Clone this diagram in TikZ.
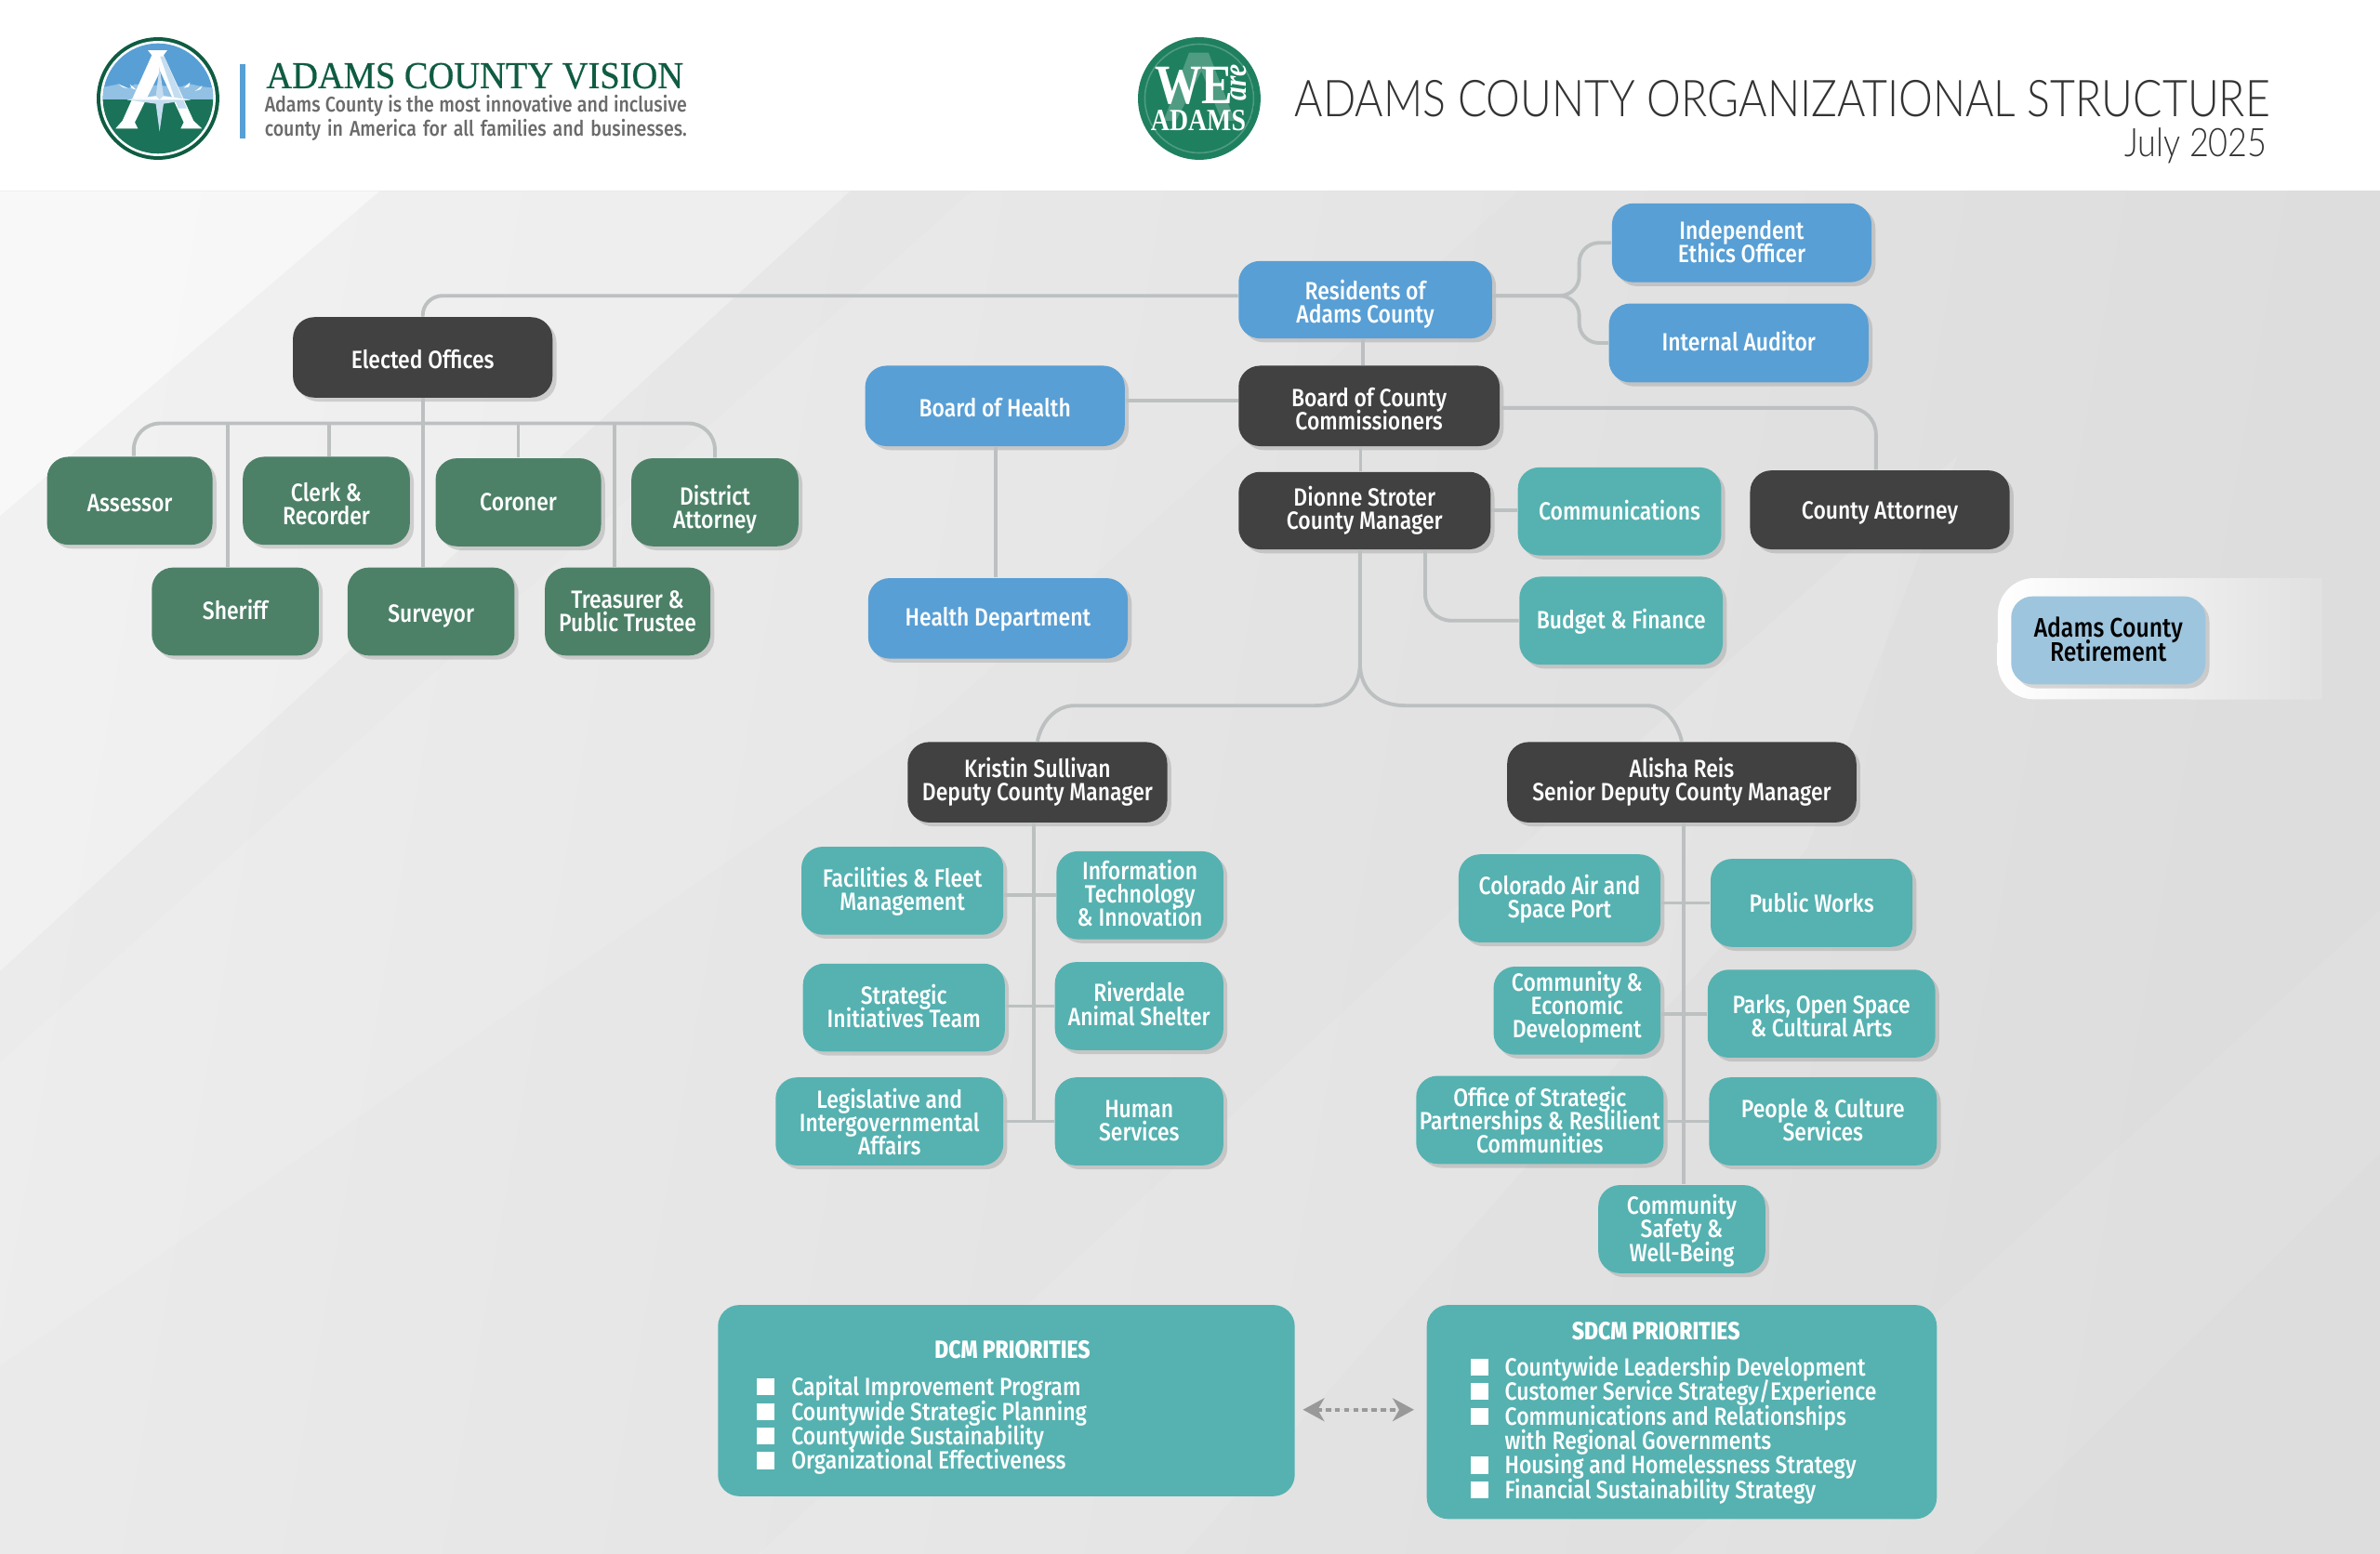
\documentclass[tikz,border=0pt]{standalone}
\usepackage{fontspec}
\setmainfont[FakeStretch=.855]{Fira Sans Medium}
\newfontfamily\headserif[FakeStretch=.94,FakeBold=0.5]{Liberation Serif}
\newfontfamily\logoserif[FakeStretch=.84]{Liberation Serif}
\newfontfamily\titlelight[FakeStretch=.85]{Lato Light}
\usetikzlibrary{shadows}
\usetikzlibrary{arrows.meta}
\definecolor{darkbox}{HTML}{414141}
\definecolor{bluebox}{HTML}{589FD5}
\definecolor{tealbox}{HTML}{55B2B1}
\definecolor{greenbox}{HTML}{4C8168}
\definecolor{paleblue}{HTML}{9EC5DE}
\definecolor{linkgray}{HTML}{BCC0C0}
\definecolor{logogreen}{HTML}{0F5C42}
\definecolor{fieldgreen}{HTML}{1A7358}
\definecolor{wegreen}{HTML}{1F8060}
\definecolor{weline}{HTML}{4F9C83}
\newcommand\boxfont{\fontsize{7.6}{7.1}\selectfont\lineskiplimit=-6pt\relax}
\newcommand\retfont{\fontsize{8.2}{7.2}\selectfont\lineskiplimit=-6pt\relax}
\tikzset{
    unit/.style 2 args = {minimum width = #1*0.4628pt, minimum height = #2*0.4628pt},
    orgbox/.style = {rounded corners = 6.5pt, inner sep = 0pt, align = center, text = white,
        font = \boxfont,
        execute at begin node = {\rule[-1.5pt]{0pt}{8pt}},
        execute at end node = {\rule[-1.5pt]{0pt}{6.6pt}},
        drop shadow = {opacity = 0.3, shadow xshift = 1.2pt, shadow yshift = -1.2pt}},
    down/.style 2 args = {text height = #1pt + #2*0.9256pt, text depth = 1.5pt},
    dark/.style = {orgbox, fill = darkbox},
    blue/.style = {orgbox, fill = bluebox},
    teal/.style = {orgbox, fill = tealbox},
    green/.style = {orgbox, fill = greenbox},
    link/.style = {draw = linkgray, line width = 1.1pt, rounded corners = 6pt},
    listtext/.style = {anchor = west, inner sep = 0pt, text = white, font = \boxfont},
    listhead/.style = {inner sep = 0pt, text = white, font = \boxfont\bfseries},
}

\begin{document}
\begin{tikzpicture}[%
        x = 0.4628pt,
        y = -0.4628pt,
        ]

\useasboundingbox[] (0,0) rectangle (1568,1024);

% page
\fill[white] (0,0) rectangle (1568,126);
\shade[left color = black!8, right color = black!13.5, shading angle = 80] (0,126) rectangle (1568,1024);
\fill[white, opacity = 0.5] (0,126) -- (250,126) -- (0,340) -- cycle;
\fill[white, opacity = 0.3] (0,126) -- (560,126) -- (0,640) -- cycle;
\fill[white, opacity = 0.1] (0,700) -- (640,126) -- (1000,126) -- (620,470) -- (0,900) -- cycle;
\fill[white, opacity = 0.1] (500,1024) -- (1000,560) -- (1290,300) -- (1190,560) -- (780,1024) -- cycle;
\fill[white, opacity = 0.08] (1100,1024) -- (1568,600) -- (1568,760) -- (1300,1024) -- cycle;

% left logo
\begin{scope}[shift = {(58.2,18.4)}, x = 0.0944pt, y = -0.0944pt]
    \fill[logogreen] (225,228) circle [radius = 198*0.0944pt];
    \fill[white] (225,228) circle [radius = 186*0.0944pt];
    \begin{scope}
        \clip (225,228) circle [radius = 178*0.0944pt];
        \fill[bluebox] (0,0) rectangle (450,232);
        \fill[bluebox!65!white] (30,232) -- (30,195) -- (95,182) -- (130,195) -- (150,182) -- (300,190) -- (325,180) -- (370,190) -- (420,195) -- (420,232) -- cycle;
        \fill[white] (95,180) -- (130,196) -- (112,192) -- cycle;
        \fill[white] (135,182) -- (155,200) -- (140,195) -- cycle;
        \fill[white] (328,176) -- (308,194) -- (325,190) -- cycle;
        \fill[white] (368,186) -- (345,204) -- (362,198) -- cycle;
        \fill[fieldgreen] (0,232) rectangle (450,450);
        \foreach \RAD in {80,110,140,170,200}{
            \draw[logogreen, line width = 0.7pt] (60,420) ++(60:\RAD) arc [start angle = 60, end angle = 0, radius = \RAD*0.0944pt];
            \draw[logogreen, line width = 0.7pt] (400,430) ++(120:\RAD) arc [start angle = 120, end angle = 180, radius = \RAD*0.0944pt];
            }
    \end{scope}
    \fill[white] (192,72) -- (255,72) -- (243,88) -- (340,300) -- (367,325) -- (298,325) -- (308,305) -- (232,140) -- (150,305) -- (160,325) -- (88,325) -- (110,300) -- (205,88) -- cycle;
    \fill[bluebox!35!white] (232,92) -- (245,92) -- (318,260) -- (290,260) -- cycle;
    \fill[bluebox!35!white] (230,125) -- (243,220) -- (330,232) -- (243,245) -- (230,335) -- (218,245) -- (125,232) -- (218,220) -- cycle;
    \fill[white] (125,232) -- (218,220) -- (230,232) -- (243,220) -- (330,232) -- (230,232) -- cycle;
\end{scope}

\fill[bluebox] (158,42) rectangle (162,91);
\node (vision) [anchor = west, inner sep = 0pt, text = logogreen, font = \fontsize{11.6}{12}\headserif] at (175,50) {ADAMS COUNTY VISION};
\node (statement) [anchor = north west, inner sep = 0pt, align = left, text = black!58, font = \fontsize{6.5}{7.4}\selectfont] at (174,62) {\hbox to 128.7pt{Adams County is the most innovative and inclusive}\\\hbox to 128.7pt{county in America for all families and businesses.}};

% right logo
\begin{scope}[shift = {(744.2,18.4)}, x = 0.0944pt, y = -0.0944pt]
    \fill[wegreen] (225,228) circle [radius = 198*0.0944pt];
    \begin{scope}
        \clip (225,228) circle [radius = 178*0.0944pt];
        \draw[weline, line width = 0.5pt] (225,228) circle [radius = 176*0.0944pt];
        \fill[weline] (192,80) -- (255,80) -- (340,300) -- (298,300) -- (232,140) -- (150,300) -- (110,300) -- cycle;
        \foreach \RAD in {50,75,100,125}{
            \draw[weline, line width = 0.5pt] (225,470) ++(40:\RAD) arc [start angle = 40, end angle = 140, radius = \RAD*0.0944pt];
            }
    \end{scope}
    \node (we) [text = white, inner sep = 0pt, font = \fontsize{17}{17}\logoserif\bfseries] at (208,188) {WE};
    \node (wordare) [text = white, inner sep = 0pt, rotate = 90, font = \fontsize{10}{10}\logoserif\bfseries\itshape] at (352,176) {are};
    \node (weadams) [text = white, inner sep = 0pt, font = \fontsize{9.4}{9.4}\logoserif\bfseries] at (222,300) {ADAMS};
\end{scope}

\node (title) [anchor = east, inner sep = 0pt, text = black!80, font = \fontsize{15.5}{16}\titlelight] at (1496,65) {ADAMS COUNTY ORGANIZATIONAL STRUCTURE};
\node (date) [anchor = east, inner sep = 0pt, text = black!80, font = \fontsize{12}{12}\titlelight] at (1494,96) {July 2025};

% retirement panel
\shade[left color = white, middle color = black!5, right color = black!12] (1530,381) -- (1340,381) arc [start angle = 90, end angle = 180, radius = 11pt] -- (1316,437) arc [start angle = 180, end angle = 270, radius = 11pt] -- (1530,461) -- cycle;
\node (ret) [orgbox, fill = paleblue, text = black, font = \retfont, unit = {128}{58}, down = {12.6}{1.5}] at (1389,422) {Adams County\\Retirement};

% top
\node (res) [blue, unit = {167}{51}, down = {12.6}{3.5}] at (899.5,197.5) {Residents of\\Adams County};
\node (ieo) [blue, unit = {171}{52}, down = {12.6}{1}] at (1147.5,160) {Independent\\Ethics Officer};
\node (iaud) [blue, unit = {171}{52}] at (1145.5,226) {Internal Auditor};
\node (bocc) [dark, unit = {172}{53}, down = {12.6}{4}] at (902,267.5) {Board of County\\Commissioners};
\node (boh) [blue, unit = {171}{53}, down = {6.2}{2}] at (655.5,267.5) {Board of Health};
\node (hlth) [blue, unit = {171}{53}] at (657.5,407.5) {Health Department};
\node (dcm) [dark, unit = {166}{51}] at (899,336.5) {Dionne Stroter\\County Manager};
\node (comm) [teal, unit = {134}{58}] at (1067,337) {Communications};
\node (bud) [teal, unit = {134}{58}] at (1068,409) {Budget \& Finance};
\node (att) [dark, unit = {171}{52}, down = {6.2}{1}] at (1238.5,336) {County Attorney};

% elected
\node (elc) [dark, unit = {171}{53}, down = {6.2}{2}] at (278.5,235.5) {Elected Offices};
\node (asr) [green, unit = {109}{58}, down = {6.2}{2}] at (85.5,330) {Assessor};
\node (clk) [green, unit = {110}{58}, down = {12.6}{3.5}] at (215,330) {Clerk \&\\Recorder};
\node (cor) [green, unit = {109}{58}] at (341.5,331) {Coroner};
\node (dat) [green, unit = {110}{58}, down = {12.6}{5}] at (471,331) {District\\Attorney};
\node (she) [green, unit = {110}{58}] at (155,403) {Sheriff};
\node (sur) [green, unit = {110}{58}, down = {6.2}{2}] at (284,403) {Surveyor};
\node (tre) [green, unit = {109}{58}, down = {12.6}{1}] at (413.5,403) {Treasurer \&\\Public Trustee};

% deputies
\node (krs) [dark, unit = {171}{53}] at (683.5,515.5) {Kristin Sullivan\\Deputy County Manager};
\node (ali) [dark, unit = {230}{53}] at (1108,515.5) {Alisha Reis\\Senior Deputy County Manager};
\node (fac) [teal, unit = {133}{58}, down = {12.6}{1}] at (594.5,587) {Facilities \& Fleet\\Management};
\node (inf) [teal, unit = {110}{58}] at (751,590) {Information\\Technology\\\& Innovation};
\node (str) [teal, unit = {133}{58}, down = {12.6}{1}] at (595.5,664) {Strategic\\Initiatives Team};
\node (riv) [teal, unit = {111}{58}] at (750.5,663) {Riverdale\\Animal Shelter};
\node (leg) [teal, unit = {150}{58}, down = {19.7}{2.5}] at (586,739) {Legislative and\\Intergovernmental\\Affairs};
\node (hum) [teal, unit = {111}{58}, down = {12.6}{1}] at (750.5,739) {Human\\Services};
\node (col) [teal, unit = {133}{58}, down = {12.6}{1}] at (1027.5,592) {Colorado Air and\\Space Port};
\node (pub) [teal, unit = {133}{58}, down = {6.2}{1}] at (1193.5,595) {Public Works};
\node (ced) [teal, unit = {110}{58}, down = {19.7}{-2}] at (1039,666) {Community \&\\Economic\\Development};
\node (prk) [teal, unit = {150}{58}, down = {12.6}{3}] at (1200,668) {Parks, Open Space\\\& Cultural Arts};
\node (osp) [teal, unit = {163}{58}, down = {19.7}{2}] at (1014.5,738) {Office of Strategic\\Partnerships \& Reslilient\\Communities};
\node (ppl) [teal, unit = {150}{58}, down = {12.6}{1}] at (1201,739) {People \& Culture\\Services};
\node (csw) [teal, unit = {110}{58}, down = {19.7}{1.5}] at (1108,810) {Community\\Safety \&\\Well-Being};

% priorities
\node (dcmp) [fill = tealbox, rounded corners = 6.5pt, unit = {380}{126}] at (663,923) {};
\node (sdcmp) [fill = tealbox, rounded corners = 6.5pt, unit = {336}{141}] at (1108,930.5) {};
\node (dcmhead) [listhead] at (667,889.5) {DCM PRIORITIES};
\node (sdcmhead) [listhead] at (1091,877) {SDCM PRIORITIES};
\foreach \Y/\TEXT in {914/Capital Improvement Program,930.4/Countywide Strategic Planning,946.5/Countywide Sustainability,962.6/Organizational Effectiveness}{
    \fill[white] (498.6,\Y-5.6) rectangle +(11.4,11.2);
    \node [listtext] at (521,\Y+0.8) {\TEXT};
    }
\foreach \Y/\TEXT in {901/Countywide Leadership Development,917/Customer Service Strategy\slash Experience,933.5/Communications and Relationships,965.6/Housing and Homelessness Strategy,982/Financial Sustainability Strategy}{
    \fill[white] (969,\Y-5.6) rectangle +(11.4,11.2);
    \node [listtext] at (991,\Y+0.8) {\TEXT};
    }
\node [listtext] at (991,950.3) {with Regional Governments};

\coordinate (bus) at (278,279);
\coordinate (split) at (896,437);
\coordinate (arrowy) at (895,929);

% connectors
\draw[link] ([yshift = 1.2pt]res.west) -| (elc.north);
\draw[link] ([xshift = -0.7pt]res.south) -- ([xshift = -0.7pt]res.south |- bocc.north);
\draw[link] ([xshift = -1.2pt]dcm.north) -- ([xshift = -1.2pt]dcm.north |- bocc.south);
\draw[link] ([yshift = 1.2pt]res.east) -- +(57,0) |- (ieo.west);
\draw[link] ([yshift = 1.2pt]res.east) -- +(57,0) |- (iaud.west);
\draw[link] ([yshift = 1.6pt]boh.east) -- ([yshift = 1.6pt]boh.east -| bocc.west);
\draw[link] ([xshift = -0.7pt]hlth.north) -- ([xshift = -0.7pt]hlth.north |- boh.south);
\draw[link, rounded corners = 8pt] ([yshift = -0.6pt]bocc.east) -| ([xshift = -1.2pt]att.north);
\draw[link] (dcm.east) -- (dcm.east -| comm.west);
\draw[link, rounded corners = 8pt] ([xshift = 18.5pt]dcm.south) |- (bud.west);

\draw[link] (elc.south) -- (elc.south |- sur.north);
\draw[link, rounded corners = 8pt] ([xshift = 1.2pt]asr.north) |- (bus) -| (dat.north);
\foreach \NAME/\OFF in {she/-2.3,clk/0.9,cor/0,tre/-3.9}{
    \draw[link] ([xshift = \OFF pt]\NAME.north) -- ([xshift = \OFF pt]\NAME.north |- bus);
    }

\draw[link, sharp corners] ([xshift = -1.4pt]dcm.south) -- (split) .. controls (896,453) and (886,465) .. (866,465) -- (708,465) .. controls (695,465) and (686,476) .. (krs.north);
\draw[link, sharp corners] (split) .. controls (896,453) and (906,465) .. (926,465) -- (1085,465) .. controls (1097,465) and (1105,476) .. (ali.north);

\draw[link] ([xshift = -1.2pt]krs.south) -- ([xshift = -1.2pt]krs.south |- hum.west);
\draw[link] ([xshift = 0.5pt]ali.south) -- ([xshift = 0.5pt]csw.north);
\foreach \LEFT/\RIGHT in {fac/inf,str/riv,leg/hum,col/pub,ced/prk,osp/ppl}{
    \draw[link] (\RIGHT.west) -- (\RIGHT.west -| \LEFT.east);
    }

\draw[{Stealth[length = 6.5pt, width = 7pt, inset = 2pt]}-{Stealth[length = 6.5pt, width = 7pt, inset = 2pt]}, draw = black!40, fill = black!40, line width = 1.2pt, dash pattern = on 1.6pt off 1.2pt, shorten < = 2.3pt, shorten > = 3.7pt] (dcmp.east |- arrowy) -- (sdcmp.west |- arrowy);

\end{tikzpicture}
\end{document}
